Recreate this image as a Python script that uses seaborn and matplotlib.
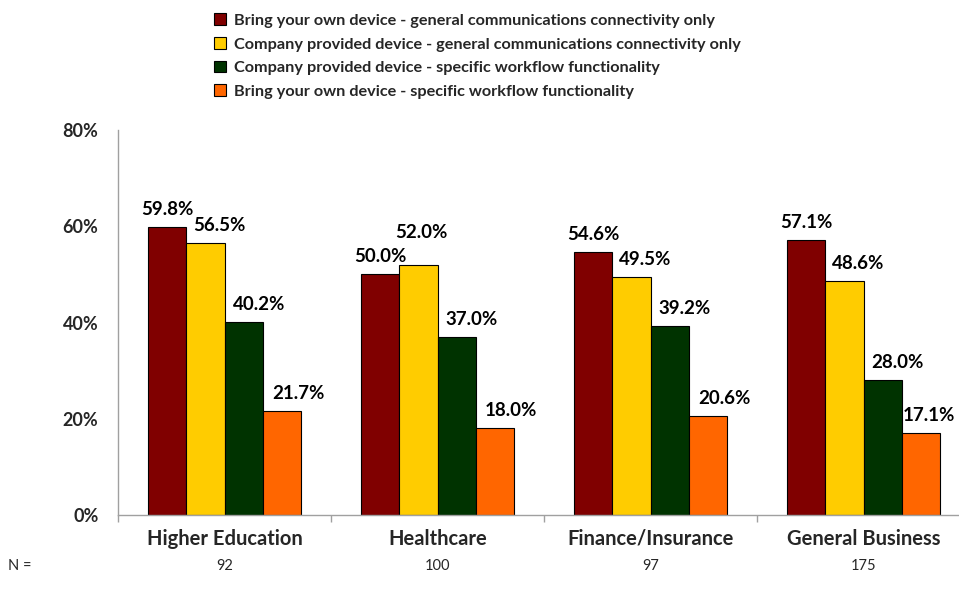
import matplotlib
matplotlib.use("Agg")
import matplotlib.pyplot as plt
import matplotlib.transforms as mtransforms
from matplotlib.patches import Patch
import seaborn as sns
import pandas as pd

categories = ["Higher Education", "Healthcare", "Finance/Insurance", "General Business"]
series = [
    "Bring your own device - general communications connectivity only",
    "Company provided device - general communications connectivity only",
    "Company provided device - specific workflow functionality",
    "Bring your own device - specific workflow functionality",
]
byod_general = [59.8, 50.0, 54.6, 57.1]
company_general = [56.5, 52.0, 49.5, 48.6]
company_workflow = [40.2, 37.0, 39.2, 28.0]
byod_workflow = [21.7, 18.0, 20.6, 17.1]
n_values = ["92", "100", "97", "175"]
yticks = [0, 20, 40, 60, 80]
colors = ["#800000", "#FFCC00", "#003300", "#FF6600"]

values = [byod_general, company_general, company_workflow, byod_workflow]
rows = []
for s, vals in zip(series, values):
    for c, v in zip(categories, vals):
        rows.append({"category": c, "series": s, "value": v})
df = pd.DataFrame(rows)

sns.set_theme(style="white")
plt.rcParams["font.family"] = ["Lato", "DejaVu Sans"]

fig = plt.figure(figsize=(9.59, 5.97), dpi=100)
ax = fig.add_axes([118 / 959, 82 / 597, 852 / 959, 385 / 597])

sns.barplot(data=df, x="category", y="value", hue="series", order=categories,
            hue_order=series, palette=colors, saturation=1, width=0.72, gap=0,
            edgecolor="black", linewidth=0.8, ax=ax, legend=False)

ax.set_xlim(-0.5, 3.5)
ax.set_ylim(0, 80)
ax.set_yticks(yticks)
ax.set_yticklabels([f"{t}%" for t in yticks], fontsize=13, fontweight="bold")
ax.set_xlabel("")
ax.set_ylabel("")
ax.set_xticks([0, 1, 2, 3])
ax.set_xticklabels(categories, fontsize=14.5, fontweight="bold")
ax.tick_params(axis="x", length=0, pad=10)
ax.tick_params(axis="y", length=0, pad=14)
ax.set_xticks([-0.5, 0.5, 1.5, 2.5, 3.5], minor=True)
ax.tick_params(axis="x", which="minor", length=5, color="#A0A0A0", width=1,
               direction="out", bottom=True)
ax.set_yticks(yticks, minor=True)
ax.tick_params(axis="y", which="minor", length=5, color="#A0A0A0", width=1,
               direction="out", left=True)
for sp in ["top", "right"]:
    ax.spines[sp].set_visible(False)
for sp in ["left", "bottom"]:
    ax.spines[sp].set_color("#A0A0A0")
    ax.spines[sp].set_linewidth(1)

# data labels (offsets in pixels relative to bar top centre)
label_dx = [0, 14, 15, 16]
label_dy = 9
overrides = {(1, 1): (3, 24), (3, 3): (8, 9)}
for i, cont in enumerate(ax.containers):
    for j, (bar, v) in enumerate(zip(cont, values[i])):
        xc = bar.get_x() + bar.get_width() / 2
        dx, dy = overrides.get((i, j), (label_dx[i], label_dy))
        ax.annotate(f"{v:.1f}%", (xc, v), xytext=(dx, dy),
                    textcoords="offset pixels", ha="center", va="bottom",
                    fontsize=13.5, fontweight="bold", color="black",
                    annotation_clip=False)

# N row
trans = mtransforms.blended_transform_factory(ax.transData, fig.transFigure)
fig.text(8 / 959, 1 - 566 / 597, "N =", fontsize=10.5, va="center", ha="left")
for i, n in enumerate(n_values):
    ax.text(i, 1 - 566 / 597, n, transform=trans, fontsize=10.5,
            ha="center", va="center")

# legend
handles = [Patch(facecolor=c, edgecolor="black", linewidth=0.8) for c in colors]
fig.legend(handles, series, loc="upper left", bbox_to_anchor=(214 / 959, 1 - 13.5 / 597),
           frameon=False, prop={"weight": "bold", "size": 11.7},
           handlelength=0.74, handleheight=0.74, handletextpad=0.52, labelspacing=0.55,
           borderaxespad=0, borderpad=0)

fig.savefig("out.png", dpi=100)
